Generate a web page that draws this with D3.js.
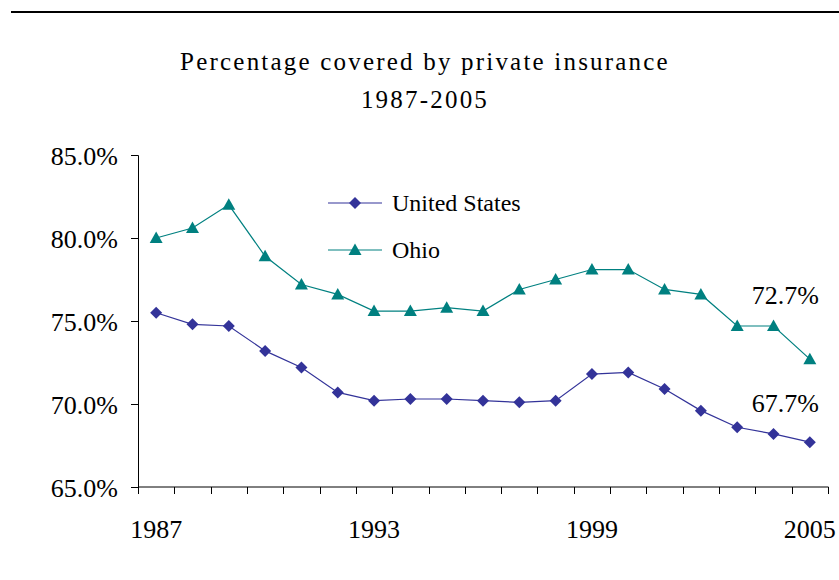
<!DOCTYPE html>
<meta charset="utf-8">
<body style="margin:0">
<svg id="chart" width="839" height="580" font-family="'Liberation Serif', 'Times New Roman', Tinos, serif">
<text x="425" y="70" text-anchor="middle" style="font-family:'Liberation Serif';font-size:25px;letter-spacing:2.2px">Percentage covered by private insurance</text>
<text x="425" y="108" text-anchor="middle" style="font-family:'Liberation Serif';font-size:25px;letter-spacing:2.2px">1987-2005</text>
</svg>
<script src="https://cdnjs.cloudflare.com/ajax/libs/d3/7.8.5/d3.min.js"></script>
<script>
// data
var years = [1987, 1988, 1989, 1990, 1991, 1992, 1993, 1994, 1995, 1996,
             1997, 1998, 1999, 2000, 2001, 2002, 2003, 2004, 2005];
var unitedStates = [75.5, 74.8, 74.7, 73.2, 72.2, 70.7, 70.2, 70.3, 70.3, 70.2,
                    70.1, 70.2, 71.8, 71.9, 70.9, 69.6, 68.6, 68.2, 67.7];
var ohio = [80.0, 80.6, 82.0, 78.9, 77.2, 76.6, 75.6, 75.6, 75.8, 75.6,
            76.9, 77.5, 78.1, 78.1, 76.9, 76.6, 74.7, 74.7, 72.7];
var yTicks = [65, 70, 75, 80, 85];
var xLabels = [1987, 1993, 1999, 2005];
var legendNames = ["United States", "Ohio"];
var colors = ["#333399", "#008080"];

var width = 839, height = 580;
var svg = d3.select("#chart");

// rule across the top
svg.append("line")
    .attr("x1", 11).attr("x2", width)
    .attr("y1", 12).attr("y2", 12)
    .attr("stroke", "#000").attr("stroke-width", 2);

var x = d3.scaleBand().domain(years).range([138, 828]);
var y = d3.scaleLinear().domain([65, 85]).range([487, 155]);

// y axis
var yAxis = svg.append("g")
    .attr("transform", "translate(138,0)")
    .call(d3.axisLeft(y).tickValues(yTicks).tickSize(7).tickPadding(13)
      .tickFormat(function(d) { return d.toFixed(1) + "%"; }));
yAxis.attr("font-family", null).attr("font-size", null);
yAxis.selectAll("text").style("font-size", "26px").attr("dy", "0.35em");

// x axis: ticks between categories
var xAxis = svg.append("g")
    .attr("transform", "translate(0,487)");
xAxis.append("line")
    .attr("x1", 138).attr("x2", 828.5)
    .attr("stroke", "#000");
xAxis.selectAll("line.tick")
    .data(years.concat(["end"]))
    .enter().append("line")
    .attr("class", "tick")
    .attr("x1", function(d, i) { return Math.round(138 + i * x.step()) + 0.5; })
    .attr("x2", function(d, i) { return Math.round(138 + i * x.step()) + 0.5; })
    .attr("y1", 0).attr("y2", 7)
    .attr("stroke", "#000");
xAxis.selectAll("text")
    .data(xLabels)
    .enter().append("text")
    .attr("x", function(d) { return x(d) + x.bandwidth() / 2; })
    .attr("y", 51)
    .attr("text-anchor", "middle")
    .style("font-size", "26px")
    .text(function(d) { return d; });

var cx = function(d, i) { return x(years[i]) + x.bandwidth() / 2; };
var line = d3.line().x(cx).y(function(d) { return y(d); });

// square turned 45 degrees, and an upward triangle
var diamond = function() { return "M0,-6L6,0L0,6L-6,0Z"; };
var triangle = function() { return "M0,-6.5L6.5,5L-6.5,5Z"; };

[unitedStates, ohio].forEach(function(series, k) {
  svg.append("path")
      .datum(series)
      .attr("fill", "none")
      .attr("stroke", colors[k])
      .attr("stroke-width", 1.2)
      .attr("d", line);
  svg.selectAll(".m" + k)
      .data(series)
      .enter().append("path")
      .attr("class", "m" + k)
      .attr("d", k === 0 ? diamond : triangle)
      .attr("fill", colors[k])
      .attr("transform", function(d, i) { return "translate(" + cx(d, i) + "," + y(d) + ")"; });
});

// legend
var legend = svg.selectAll(".legend")
    .data(legendNames)
    .enter().append("g")
    .attr("class", "legend")
    .attr("transform", function(d, i) { return "translate(328," + (203 + i * 47) + ")"; });
legend.append("line")
    .attr("x1", 0).attr("x2", 54)
    .attr("stroke", function(d, i) { return colors[i]; })
    .attr("stroke-width", 1.2);
legend.append("path")
    .attr("d", function(d, i) { return i === 0 ? diamond() : triangle(); })
    .attr("transform", "translate(27,0)")
    .attr("fill", function(d, i) { return colors[i]; });
legend.append("text")
    .attr("x", 64).attr("dy", "0.33em")
    .style("font-size", "24px")
    .text(function(d) { return d; });

// end labels
var last = years.length - 1;
svg.append("text")
    .attr("x", 819).attr("y", 304)
    .attr("text-anchor", "end")
    .style("font-size", "26px")
    .text(ohio[last].toFixed(1) + "%");
svg.append("text")
    .attr("x", 819).attr("y", 412)
    .attr("text-anchor", "end")
    .style("font-size", "26px")
    .text(unitedStates[last].toFixed(1) + "%");

// every label in the serif face, black
svg.selectAll("text")
    .style("font-family", "'Liberation Serif', 'Times New Roman', Tinos, serif")
    .attr("fill", "#000");
</script>
</body>
